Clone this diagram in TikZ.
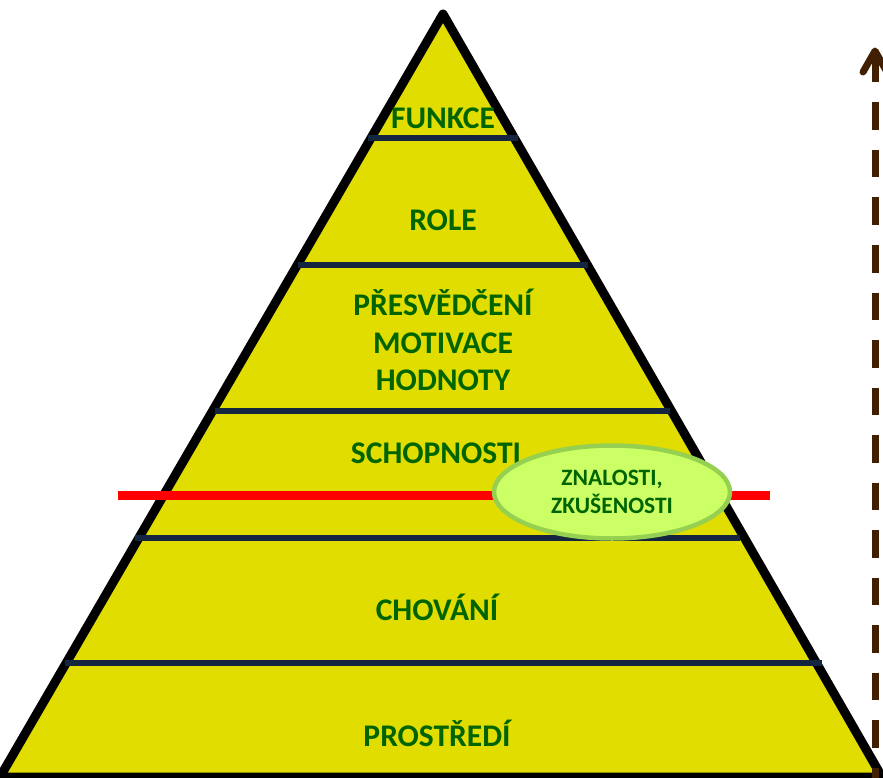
\documentclass[tikz,border=0pt]{standalone}
\usepackage{fontspec}
\setmainfont{Carlito}
\usetikzlibrary{shapes.geometric}
\definecolor{pyr}{RGB}{225,221,0}
\definecolor{navy}{RGB}{20,38,63}
\definecolor{txt}{RGB}{0,100,0}
\definecolor{ellf}{RGB}{204,255,102}
\definecolor{elld}{RGB}{150,208,80}
\definecolor{brn}{RGB}{64,32,0}
\tikzset{
  lvl/.style={font=\fontsize{31.5}{37.5}\selectfont\bfseries, text=txt, anchor=base, inner sep=0pt},
  small/.style={font=\fontsize{23.5}{28}\selectfont\bfseries, text=txt, anchor=base, inner sep=0pt},
  sep/.style={draw=navy, line width=6pt},
}
\begin{document}
\begin{tikzpicture}[x=1pt,y=-1pt]
\useasboundingbox (0,0) rectangle (883,778);
% triangle
\coordinate (apex) at (443,14);
\coordinate (bl) at (0,777);
\coordinate (br) at (882,777);
\draw[fill=pyr, line width=9pt, line join=round] (apex) -- (bl) -- (br) -- cycle;
% separator lines
\coordinate (s1a) at (368,138); \coordinate (s1b) at (518,138);
\coordinate (s2a) at (298,265); \coordinate (s2b) at (588,265);
\coordinate (s3a) at (215,411); \coordinate (s3b) at (670,411);
\coordinate (s4a) at (135,538); \coordinate (s4b) at (740,538);
\coordinate (s5a) at (65,663);  \coordinate (s5b) at (822,663);
\draw[sep] (s1a) -- (s1b);
\draw[sep] (s2a) -- (s2b);
\draw[sep] (s3a) -- (s3b);
\draw[sep] (s4a) -- (s4b);
\draw[sep] (s5a) -- (s5b);
% red line
\coordinate (ra) at (118,495); \coordinate (rb) at (770,495);
\draw[red, line width=9pt] (ra) -- (rb);
% labels
\node[lvl] (funkce) at (443,129) {FUNKCE};
\node[lvl] (role) at (443,230) {ROLE};
\node[lvl] (pres1) at (443,315) {PŘESVĚDČENÍ};
\node[lvl] (pres2) at (443,353) {MOTIVACE};
\node[lvl] (pres3) at (443,390) {HODNOTY};
\node[lvl] (schop) at (436,463) {SCHOPNOSTI};
\node[lvl] (chov) at (437,620) {CHOVÁNÍ};
\node[lvl] (prost) at (437,746) {PROSTŘEDÍ};
% ellipse
\node[ellipse, draw=elld, fill=ellf, line width=4.5pt, minimum width=236pt, minimum height=93pt,
  inner sep=0pt] (zn) at (612,492) {};
\node[small] (zn1) at (612,485) {ZNALOSTI,};
\node[small] (zn2) at (612,513) {ZKUŠENOSTI};
% dashed arrow
\coordinate (ab) at (875,778);
\coordinate (am) at (875,82.5);
\coordinate (at) at (875,51);
\coordinate (wl) at (863,72);
\coordinate (wr) at (887,72);
\draw[brn, line width=7pt, dash pattern=on 27.5pt off 20pt, dash phase=27.5pt] (am) -- (ab);
\draw[brn, line width=7pt, line cap=round, line join=round] (wl) -- (at) -- (wr);
\draw[brn, line width=7pt] (at) -- (am);
\end{tikzpicture}
\end{document}
